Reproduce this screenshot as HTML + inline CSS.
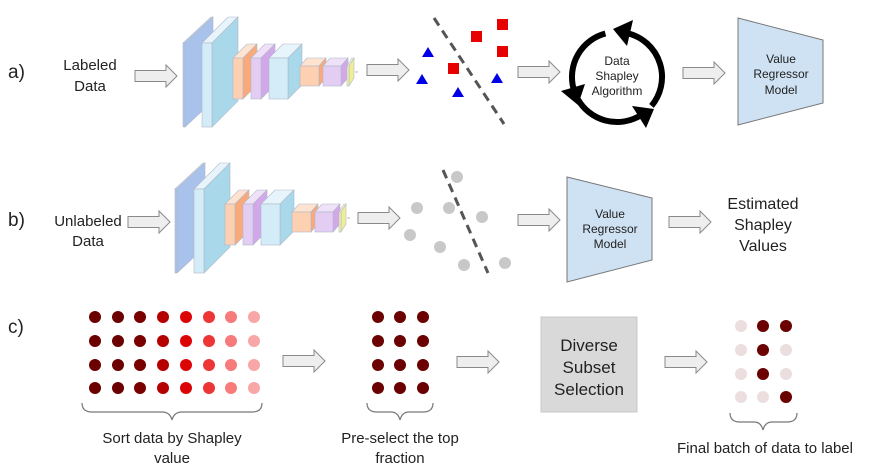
<!DOCTYPE html>
<html><head><style>body{margin:0;background:#fff}svg{display:block}text{font-family:"Liberation Sans",sans-serif;fill:#222}</style></head><body>
<svg width="872" height="473" viewBox="0 0 872 473" xmlns="http://www.w3.org/2000/svg">
<defs>
<g id="arr"><path d="M0,-5.5 H31 V-11 L42,0 L31,11 V5.5 H0 Z" fill="#eeeeee" stroke="#8a8a8a" stroke-width="1"/></g>
<g id="cnn" stroke="#b0b8c8" stroke-width="0.6">
 <polygon points="183,43 211,17 213,17 185,43" fill="#c4d6f2"/>
 <polygon points="185,43 213,17 213,101 185,127" fill="#a9c2ec"/>
 <rect x="183" y="43" width="2" height="84" fill="#a9c2ec"/>
 <polygon points="202,43 228,17 238,17 212,43" fill="#e8f4fb"/>
 <polygon points="212,43 238,17 238,101 212,127" fill="#a8d8ea"/>
 <rect x="202" y="43" width="10" height="84" fill="#d4ecf7"/>
 <polygon points="233,58 247,44 257,44 243,58" fill="#fde3d0"/>
 <polygon points="243,58 257,44 257,85 243,99" fill="#f9a97a"/>
 <rect x="233" y="58" width="10" height="41" fill="#fdd0b1"/>
 <polygon points="251,58 265,44 275,44 261,58" fill="#efe1f7"/>
 <polygon points="261,58 275,44 275,85 261,99" fill="#d3a8ea"/>
 <rect x="251" y="58" width="10" height="41" fill="#e3cdf2"/>
 <polygon points="269,58 283,44 302,44 288,58" fill="#e8f4fb"/>
 <polygon points="288,58 302,44 302,85 288,99" fill="#a8d8ea"/>
 <rect x="269" y="58" width="19" height="41" fill="#d4ecf7"/>
 <polygon points="300,66 307,58 326,58 319,66" fill="#fde3d0"/>
 <polygon points="319,66 326,58 326,78 319,86" fill="#f9a97a"/>
 <rect x="300" y="66" width="19" height="20" fill="#fdd0b1"/>
 <polygon points="323,66 330,58 348,58 341,66" fill="#efe1f7"/>
 <polygon points="341,66 348,58 348,78 341,86" fill="#d3a8ea"/>
 <rect x="323" y="66" width="18" height="20" fill="#e3cdf2"/>
 <polygon points="347,66 352,58 354,58 349,66" fill="#f8f8c8"/>
 <polygon points="349,66 354,58 354,78 349,86" fill="#eeee99"/>
 <rect x="347" y="66" width="2" height="20" fill="#f4f4a8"/>
 <line x1="355" y1="72" x2="358" y2="72" stroke="#888"/>
</g>
</defs>

<!-- Row a -->
<text x="8" y="78" font-size="19">a)</text>
<text x="90" y="70" font-size="15" text-anchor="middle">Labeled</text>
<text x="90" y="91" font-size="15" text-anchor="middle">Data</text>
<use href="#arr" x="135" y="76"/>
<use href="#cnn"/>
<use href="#arr" x="367" y="70"/>
<line x1="434" y1="18" x2="504" y2="124" stroke="#555" stroke-width="3" stroke-dasharray="9,6"/>
<g fill="#e60000">
<rect x="497" y="19" width="11" height="11"/><rect x="471" y="31" width="11" height="11"/>
<rect x="497" y="46" width="11" height="11"/><rect x="448" y="63" width="11" height="11"/>
</g>
<g fill="#0000e6">
<polygon points="428,47 434,57 422,57"/><polygon points="422,74 428,84 416,84"/>
<polygon points="458,87 464,97 452,97"/><polygon points="497,73 503,83 491,83"/>
</g>
<use href="#arr" x="518" y="72"/>
<g stroke="#000" stroke-width="6" fill="none">
<path d="M651.5,105.9 A45,45 0 0 0 628.6,33.5"/>
<path d="M605.4,33.5 A45,45 0 0 0 573.5,88.6"/>
<path d="M578,99.5 A45,45 0 0 0 639.5,116"/>
</g>
<g fill="#000">
<polygon points="613,29 633,20 627,46"/>
<polygon points="578,105 561,91 585,84"/>
<polygon points="654,109 646,128 632,106"/>
</g>
<text x="617" y="65" font-size="12" text-anchor="middle">Data</text>
<text x="617" y="80" font-size="12" text-anchor="middle">Shapley</text>
<text x="617" y="95" font-size="12" text-anchor="middle">Algorithm</text>
<use href="#arr" x="683" y="73"/>
<polygon points="738,18 823,40 823,103 738,125" fill="#cfe2f3" stroke="#777" stroke-width="1"/>
<text x="781" y="63" font-size="12" text-anchor="middle">Value</text>
<text x="781" y="78" font-size="12" text-anchor="middle">Regressor</text>
<text x="781" y="94" font-size="12" text-anchor="middle">Model</text>

<!-- Row b -->
<text x="8" y="226" font-size="19">b)</text>
<text x="88" y="226" font-size="15" text-anchor="middle">Unlabeled</text>
<text x="88" y="246" font-size="15" text-anchor="middle">Data</text>
<use href="#arr" x="128" y="222"/>
<use href="#cnn" transform="translate(-8,146)"/>
<use href="#arr" x="358" y="218"/>
<line x1="443" y1="170" x2="488" y2="273" stroke="#555" stroke-width="3" stroke-dasharray="9,6"/>
<g fill="#c8c8c8">
<circle cx="457" cy="177" r="6"/><circle cx="417" cy="208" r="6"/><circle cx="449" cy="208" r="6"/>
<circle cx="482" cy="217" r="6"/><circle cx="410" cy="235" r="6"/><circle cx="440" cy="247" r="6"/>
<circle cx="464" cy="265" r="6"/><circle cx="505" cy="263" r="6"/>
</g>
<use href="#arr" x="518" y="220"/>
<polygon points="567,177 652,198 652,260 567,282" fill="#cfe2f3" stroke="#777" stroke-width="1"/>
<text x="610" y="218" font-size="12" text-anchor="middle">Value</text>
<text x="610" y="233" font-size="12" text-anchor="middle">Regressor</text>
<text x="610" y="248" font-size="12" text-anchor="middle">Model</text>
<use href="#arr" x="669" y="222"/>
<text x="763" y="209" font-size="16" text-anchor="middle">Estimated</text>
<text x="763" y="230" font-size="16" text-anchor="middle">Shapley</text>
<text x="763" y="251" font-size="16" text-anchor="middle">Values</text>

<!-- Row c -->
<text x="8" y="333" font-size="19">c)</text>
<g>
<g fill="#6b0000"><circle cx="95" cy="317" r="6"/><circle cx="95" cy="341" r="6"/><circle cx="95" cy="365" r="6"/><circle cx="95" cy="388" r="6"/>
<circle cx="118" cy="317" r="6"/><circle cx="118" cy="341" r="6"/><circle cx="118" cy="365" r="6"/><circle cx="118" cy="388" r="6"/></g>
<g fill="#7a0000"><circle cx="140" cy="317" r="6"/><circle cx="140" cy="341" r="6"/><circle cx="140" cy="365" r="6"/><circle cx="140" cy="388" r="6"/></g>
<g fill="#b50000"><circle cx="163" cy="317" r="6"/><circle cx="163" cy="341" r="6"/><circle cx="163" cy="365" r="6"/><circle cx="163" cy="388" r="6"/></g>
<g fill="#dc0505"><circle cx="186" cy="317" r="6"/><circle cx="186" cy="341" r="6"/><circle cx="186" cy="365" r="6"/><circle cx="186" cy="388" r="6"/></g>
<g fill="#ee3535"><circle cx="209" cy="317" r="6"/><circle cx="209" cy="341" r="6"/><circle cx="209" cy="365" r="6"/><circle cx="209" cy="388" r="6"/></g>
<g fill="#f77b7b"><circle cx="231" cy="317" r="6"/><circle cx="231" cy="341" r="6"/><circle cx="231" cy="365" r="6"/><circle cx="231" cy="388" r="6"/></g>
<g fill="#f8a6a6"><circle cx="254" cy="317" r="6"/><circle cx="254" cy="341" r="6"/><circle cx="254" cy="365" r="6"/><circle cx="254" cy="388" r="6"/></g>
</g>
<path d="M82,403 Q82,412 92,412 H162 Q170,412 172,420 Q174,412 182,412 H252 Q262,412 262,403" fill="none" stroke="#777" stroke-width="1.2"/>
<text x="172" y="443" font-size="15" text-anchor="middle">Sort data by Shapley</text>
<text x="172" y="463" font-size="15" text-anchor="middle">value</text>
<use href="#arr" x="283" y="361"/>
<g fill="#6b0000">
<circle cx="378" cy="317" r="6"/><circle cx="400" cy="317" r="6"/><circle cx="423" cy="317" r="6"/>
<circle cx="378" cy="341" r="6"/><circle cx="400" cy="341" r="6"/><circle cx="423" cy="341" r="6"/>
<circle cx="378" cy="365" r="6"/><circle cx="400" cy="365" r="6"/><circle cx="423" cy="365" r="6"/>
<circle cx="378" cy="388" r="6"/><circle cx="400" cy="388" r="6"/><circle cx="423" cy="388" r="6"/>
</g>
<path d="M367,403 Q367,412 377,412 H391 Q398,412 400,420 Q402,412 409,412 H423 Q433,412 433,403" fill="none" stroke="#777" stroke-width="1.2"/>
<text x="400" y="443" font-size="15" text-anchor="middle">Pre-select the top</text>
<text x="400" y="463" font-size="15" text-anchor="middle">fraction</text>
<use href="#arr" x="457" y="362"/>
<rect x="541" y="317" width="96" height="95" fill="#d9d9d9" stroke="#c8c8c8"/>
<text x="589" y="351" font-size="17" text-anchor="middle">Diverse</text>
<text x="589" y="373" font-size="17" text-anchor="middle">Subset</text>
<text x="589" y="395" font-size="17" text-anchor="middle">Selection</text>
<use href="#arr" x="665" y="362"/>
<g fill="#ecdede">
<circle cx="741" cy="326" r="6"/><circle cx="741" cy="350" r="6"/><circle cx="786" cy="350" r="6"/>
<circle cx="741" cy="374" r="6"/><circle cx="786" cy="374" r="6"/><circle cx="741" cy="397" r="6"/><circle cx="763" cy="397" r="6"/>
</g>
<g fill="#6b0000">
<circle cx="763" cy="326" r="6"/><circle cx="786" cy="326" r="6"/><circle cx="763" cy="350" r="6"/>
<circle cx="763" cy="374" r="6"/><circle cx="786" cy="397" r="6"/>
</g>
<path d="M730,413 Q730,422 740,422 H754 Q761,422 763,430 Q765,422 772,422 H787 Q797,422 797,413" fill="none" stroke="#777" stroke-width="1.2"/>
<text x="765" y="453" font-size="15" text-anchor="middle">Final batch of data to label</text>
</svg>
</body></html>
